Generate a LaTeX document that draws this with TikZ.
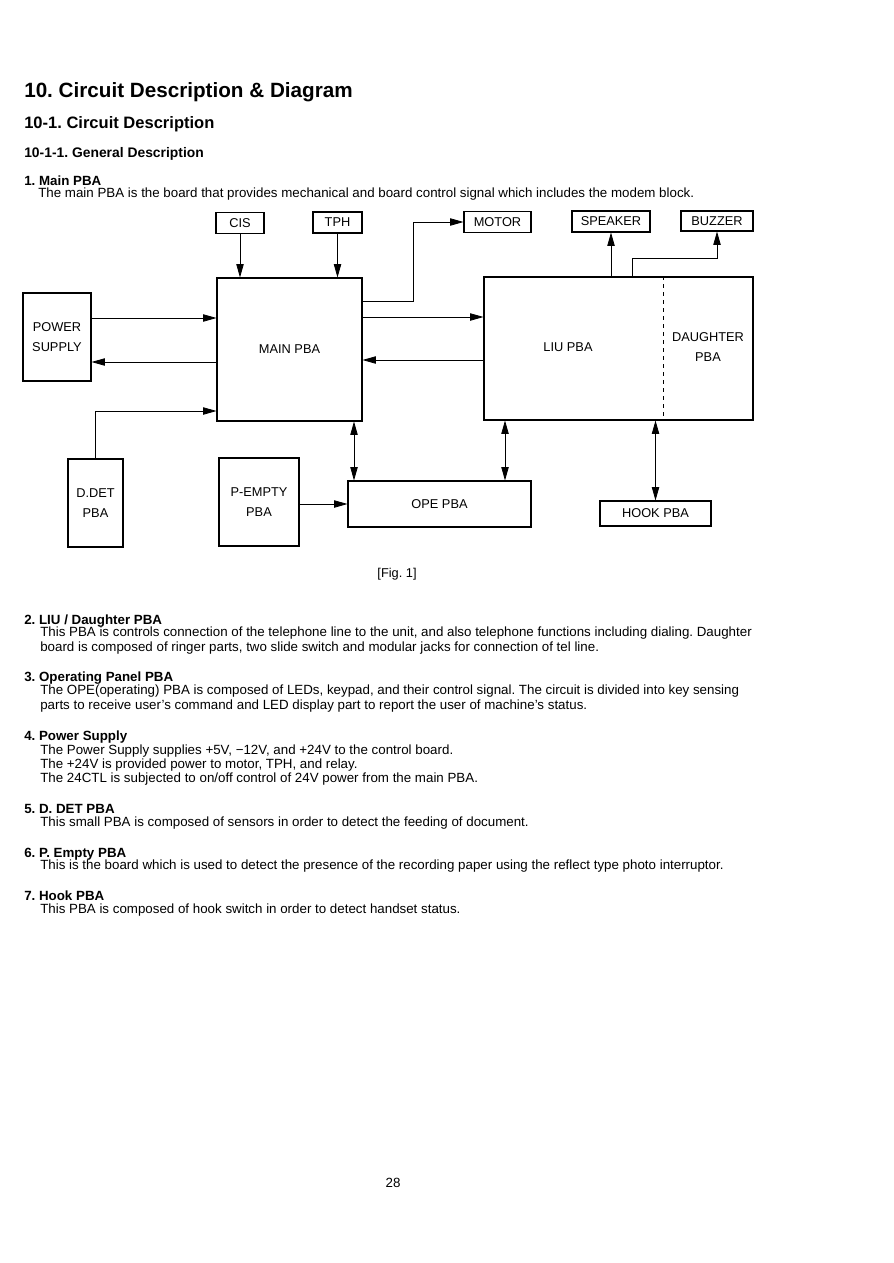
\documentclass[tikz,border=0pt]{standalone}
\usepackage{fontspec}
\setmainfont{Liberation Sans}
\usetikzlibrary{
    arrows.meta,
    positioning,
    calc,
}
\frenchspacing

\begin{document}
\begin{tikzpicture}[
    x=0.75pt, y=-0.75pt,
    blk/.style={draw, line width=0.8pt, inner sep=0pt, align=center, font=\fontsize{9.6}{14.5}\selectfont},
    sz/.style 2 args={minimum width=#1*0.75pt, minimum height=#2*0.75pt},
    lbl/.style={inner sep=0pt, align=center, font=\fontsize{9.6}{14.5}\selectfont},
    arr/.style={-{Triangle[length=10pt,width=5.5pt]}, line width=0.6pt},
    dbl/.style={{Triangle[length=10pt,width=5.5pt]}-{Triangle[length=10pt,width=5.5pt]}, line width=0.6pt},
    head/.style={anchor=base west, inner sep=0pt, font=\bfseries\fontsize{10}{12}\selectfont},
    txt/.style={anchor=base west, inner sep=0pt, font=\fontsize{10}{12}\selectfont}
]
    \fill[white] (0,0) rectangle (893,1263);
    \useasboundingbox (0,0) rectangle (893,1263);

    \node[head, font=\bfseries\fontsize{15.5}{18}\selectfont] (t0) at (24,98) {10. Circuit Description \& Diagram};
    \node[head, font=\bfseries\fontsize{12.4}{14}\selectfont] (t1) at (24,128) {10-1. Circuit Description};
    \node[head, font=\bfseries\fontsize{10.4}{12}\selectfont] (t11) at (24,157) {10-1-1. General Description};
    \node[head] (h1) at (24,185) {1. Main PBA};
    \node[txt] (p1) at (38,197) {The main PBA is the board that provides mechanical and board control signal which includes the modem block.};

    \node[blk, sz={48}{21}] (cis) at (240,223) {CIS};
    \node[blk, sz={49}{21}] (tph) at (337.5,222.5) {TPH};
    \node[blk, sz={67}{21}] (motor) at (497.5,222) {MOTOR};
    \node[blk, sz={78}{21}] (spk) at (611,221.5) {SPEAKER};
    \node[blk, sz={72}{20}] (buz) at (717,221) {BUZZER};
    \node[blk, sz={145}{143}] (main) at (289.5,349.5) {MAIN PBA};
    \node[blk, sz={269}{143}] (liu) at (618.5,348.5) {};
    \node[lbl] (liutxt) at (568,347) {LIU PBA};
    \node[lbl] (dau) at (708,347) {DAUGHTER\\PBA};
    \node[blk, sz={68}{88}] (pwr) at (57,337) {POWER\\SUPPLY};
    \node[blk, sz={55}{88}] (ddet) at (95.5,503) {D.DET\\PBA};
    \node[blk, sz={80}{88}] (pemp) at (259,502) {P-EMPTY\\PBA};
    \node[blk, sz={183}{46}] (ope) at (439.5,504) {OPE PBA};
    \node[blk, sz={111}{25}] (hook) at (655.5,513.5) {HOOK PBA};
    \node[lbl] (fig) at (397,574) {[Fig. 1]};

    \draw[dashed, line width=0.6pt] (liu.north -| 663,0) -- (liu.south -| 663,0);
    \draw[arr] (cis) -- (cis |- main.north);
    \draw[arr] (tph) -- (tph |- main.north);
    \draw[arr] (main.east |- 0,301) -- (413,301) |- (motor);
    \draw[arr] (main.east |- 0,317) -- (liu.west |- 0,317);
    \draw[arr] (liu.west |- 0,360) -- (main.east |- 0,360);
    \draw[arr] (pwr.east |- 0,318) -- (main.west |- 0,318);
    \draw[arr] (main.west |- 0,362) -- (pwr.east |- 0,362);
    \draw[arr] (ddet) |- (main.west |- 0,411);
    \draw[arr] (spk |- liu.north) -- (spk);
    \draw[arr] (liu.north -| 632,0) |- (buz |- 0,258) -- (buz);
    \draw[dbl] (main.south -| 354,0) -- (ope.north -| 354,0);
    \draw[dbl] (liu.south -| 505,0) -- (ope.north -| 505,0);
    \draw[dbl] (liu.south -| hook) -- (hook);
    \draw[arr] (pemp.east |- ope.west) -- (ope);

    \node[head] (h2) at (24,624) {2. LIU / Daughter PBA};
    \node[txt] (p2a) at (40,636) {This PBA is controls connection of the telephone line to the unit, and also telephone functions including dialing. Daughter};
    \node[txt] (p2b) at (40,651) {board is composed of ringer parts, two slide switch and modular jacks for connection of tel line.};
    \node[head] (h3) at (24,681) {3. Operating Panel PBA};
    \node[txt] (p3a) at (40,694) {The OPE(operating) PBA is composed of LEDs, keypad, and their control signal. The circuit is divided into key sensing};
    \node[txt] (p3b) at (40,709) {parts to receive user's command and LED display part to report the user of machine's status.};
    \node[head] (h4) at (24,740) {4. Power Supply};
    \node[txt] (p4a) at (40,754) {The Power Supply supplies +5V, −12V, and +24V to the control board.};
    \node[txt] (p4b) at (40,768) {The +24V is provided power to motor, TPH, and relay.};
    \node[txt] (p4c) at (40,782) {The 24CTL is subjected to on/off control of 24V power from the main PBA.};
    \node[head] (h5) at (24,813) {5. D. DET PBA};
    \node[txt] (p5) at (40,826) {This small PBA is composed of sensors in order to detect the feeding of document.};
    \node[head] (h6) at (24,857) {6. P. Empty PBA};
    \node[txt] (p6) at (40,869) {This is the board which is used to detect the presence of the recording paper using the reflect type photo interruptor.};
    \node[head] (h7) at (24,900) {7. Hook PBA};
    \node[txt] (p7) at (40,913) {This PBA is composed of hook switch in order to detect handset status.};

    \node[lbl, font=\fontsize{10}{12}\selectfont] (pg) at (393,1183) {28};
\end{tikzpicture}
\end{document}
